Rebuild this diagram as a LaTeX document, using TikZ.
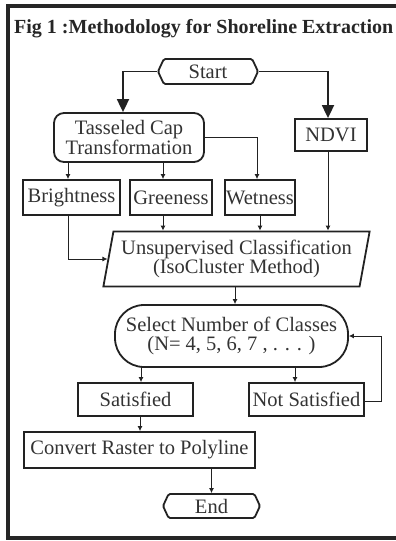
\documentclass[tikz,border=0pt]{standalone}
\usepackage{fontspec}
\setmainfont{Liberation Serif}
\usetikzlibrary{shapes.geometric,shapes.symbols,arrows.meta}
\definecolor{txtgray}{HTML}{333333}
\definecolor{linegray}{HTML}{222222}
\tikzset{
  box/.style={draw=linegray, line width=1.8pt, text=txtgray, inner sep=0pt,
    font=\fontsize{20.5}{22}\selectfont, align=center},
  term/.style={box, shape=signal, signal to=west and east, signal pointer angle=130,
    rounded corners=1.5pt},
  para/.style={box, trapezium, trapezium left angle=76, trapezium right angle=104,
    trapezium stretches=true},
  flow/.style={draw=linegray, line width=0.9pt, -{Latex[length=5pt,width=5pt]}},
  bigflow/.style={draw=linegray, line width=1.8pt, -{Triangle[length=13pt,width=12pt]}},
}
\begin{document}
\begin{tikzpicture}[x=1pt, y=-1pt]
    \useasboundingbox (0,0) rectangle (396,541);
    \draw[line width=4pt, black!85] (396,6) -- (7.5,6) -- (7.5,538) -- (396,538);
    \node[anchor=west, font=\fontsize{20}{22}\selectfont\bfseries, text=black!85, inner sep=0pt]
      (title) at (14,29) {Fig 1 :Methodology for Shoreline Extraction};
    \node[term, minimum width=100pt, minimum height=25pt] (start) at (208,71.5) {Start};
    \node[box, rounded corners=10pt, minimum width=150pt, minimum height=49pt] (tc) at (129,137.5) {Tasseled Cap\\[-2pt]Transformation};
    \node[box, minimum width=72pt, minimum height=32pt] (ndvi) at (331,135) {NDVI};
    \node[box, minimum width=97pt, minimum height=35pt] (bri) at (71.5,197.5) {Brightness};
    \node[box, minimum width=82pt, minimum height=35pt] (grn) at (171,197.5) {Greeness};
    \node[box, minimum width=70pt, minimum height=35pt] (wet) at (260,197.5) {Wetness};
    \node[para, minimum width=267pt, minimum height=55pt] (usc) at (236.5,259) {Unsupervised Classification\\[-3pt](IsoCluster Method)};
    \node[box, rounded corners=29pt, minimum width=233pt, minimum height=62pt] (sel) at (231.5,336) {Select Number of Classes\\[-3pt](N= 4, 5, 6, 7 , . . . )};
    \node[box, minimum width=115pt, minimum height=33pt] (sat) at (135.5,399.5) {Satisfied};
    \node[box, minimum width=115pt, minimum height=33pt] (nsat) at (306.5,399.5) {Not Satisfied};
    \node[box, minimum width=231pt, minimum height=36pt] (conv) at (139.5,450) {Convert Raster to Polyline};
    \node[term, minimum width=97pt, minimum height=24pt] (end) at (211.5,506) {End};
    % start branches
    \draw[bigflow] (start.west) -| ([xshift=-6pt]tc.north);
    \draw[bigflow] (start.east) -| ([xshift=-3pt]ndvi.north);
    % tasseled cap outputs
    \draw[flow] ([xshift=-3.5pt]bri.north |- tc.south) -- ([xshift=-3.5pt]bri.north);
    \draw[flow] ([xshift=-8pt]grn.north |- tc.south) -- ([xshift=-8pt]grn.north);
    \draw[flow] (tc.east) -| ([xshift=-3pt]wet.north);
    % into classification
    \draw[flow] ([xshift=-3.5pt]bri.south) |- (usc.west);
    \draw[flow] ([xshift=-8pt]grn.south) -- ([xshift=-8pt]grn.south |- usc.north);
    \draw[flow] (wet.south) -- (wet.south |- usc.north);
    \draw[flow] ([xshift=-3pt]ndvi.south) -- ([xshift=-3pt]ndvi.south |- usc.north);
    \draw[flow] ([xshift=-1.5pt]usc.south) -- ([xshift=-1.5pt]usc.south |- sel.north);
    % decision
    \draw[flow] ([xshift=5.5pt]sat.north |- sel.south) -- ([xshift=5.5pt]sat.north);
    \draw[flow] ([xshift=-11.5pt]nsat.north |- sel.south) -- ([xshift=-11.5pt]nsat.north);
    \draw[flow] ([yshift=-1.5pt]nsat.east) -- ++(17,0) |- (sel.east);
    \draw[flow] ([xshift=4.5pt]sat.south) -- ([xshift=4.5pt]sat.south |- conv.north);
    \draw[flow] (end.north |- conv.south) -- (end.north);
  \end{tikzpicture}
\end{document}
